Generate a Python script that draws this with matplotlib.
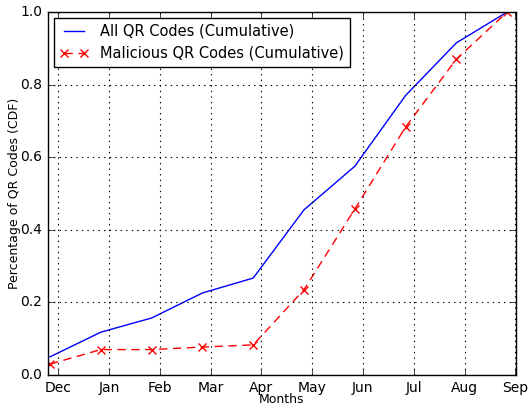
import matplotlib
matplotlib.use("Agg")
import matplotlib.pyplot as plt
import numpy as np

plt.style.use('classic')

months = ["Dec", "Jan", "Feb", "Mar", "Apr", "May", "Jun", "Jul", "Aug", "Sep"]
all_qr = [0.05, 0.118, 0.157, 0.226, 0.267, 0.455, 0.575, 0.77, 0.915, 1.0]
malicious_qr = [0.03, 0.07, 0.07, 0.077, 0.083, 0.235, 0.457, 0.683, 0.870, 1.0]

x = np.arange(len(months))
tick_offset = 0.16

fig = plt.figure(figsize=(5.28, 4.08), dpi=100, facecolor='white')
ax = fig.add_axes([0.0909, 0.0809, 0.886, 0.8897])

ax.plot(x, all_qr, color='b', linestyle='-', linewidth=1.0,
        label='All QR Codes (Cumulative)')
ax.plot(x, malicious_qr, color='r', linestyle='--', linewidth=1.0,
        dashes=(6, 4), marker='x', markersize=6, markeredgewidth=1.0,
        label='Malicious QR Codes (Cumulative)')

ax.set_xlim(-0.04, 9.17)
ax.set_ylim(0.0, 1.0)
ax.set_xticks(x + tick_offset)
ax.set_xticklabels(months)
ax.set_yticks([0.0, 0.2, 0.4, 0.6, 0.8, 1.0])
ax.tick_params(labelsize=10, direction='in', top=True, right=True)
ax.grid(True, linestyle=':', color='k', linewidth=0.8)
ax.set_xlabel('Months', fontsize=9)
ax.set_ylabel('Percentage of QR Codes (CDF)', fontsize=9)
ax.xaxis.set_label_coords(0.5, -0.05)
ax.yaxis.set_label_coords(-0.058, 0.5)

leg = ax.legend(loc='upper left', fontsize=10.5, numpoints=2, fancybox=False,
                borderaxespad=0.4)
leg.get_frame().set_edgecolor('k')

fig.savefig('out.png', dpi=100, facecolor='white')
